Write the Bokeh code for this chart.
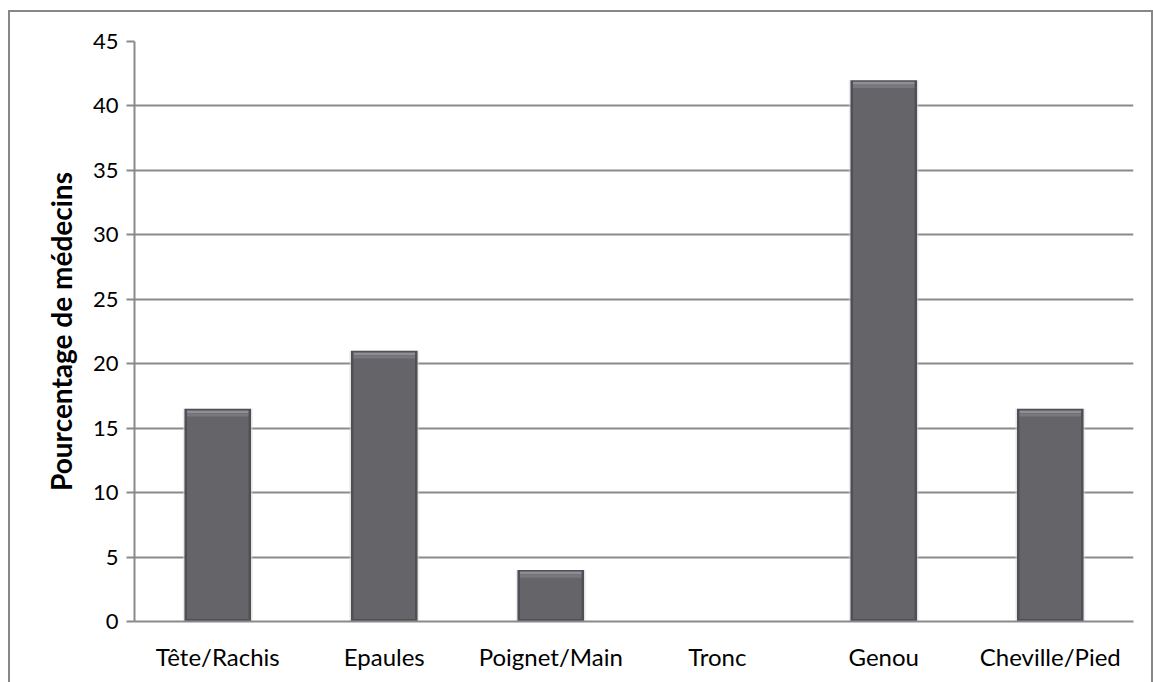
from bokeh.plotting import figure
from bokeh.models import Range1d, FactorRange, FixedTicker, ColumnDataSource
from bokeh.layouts import column
from bokeh.embed import file_html
from bokeh.resources import INLINE
import numpy as np

categories = ["Tête/Rachis", "Epaules", "Poignet/Main", "Tronc", "Genou", "Cheville/Pied"]
values = [16.5, 21, 4, 0, 42, 16.5]
y_ticks = [0, 5, 10, 15, 20, 25, 30, 35, 40, 45]

vals = np.array(values, dtype=float)
src = ColumnDataSource(dict(
    cat=categories,
    top=vals,
    inner_top=np.maximum(vals - 0.45, 0),
    inner_bottom=np.minimum(0.2, vals),
    bev_top=np.maximum(vals - 0.12, 0),
    bev_bottom=np.maximum(vals - 0.35, 0),
    bev2_top=np.maximum(vals - 0.35, 0),
    bev2_bottom=np.maximum(vals - 0.6, 0),
))

p = figure(width=1141, height=670, output_backend="svg", toolbar_location=None,
           x_range=FactorRange(factors=categories), y_range=Range1d(0, 45),
           min_border_left=124, min_border_right=18, min_border_top=29, min_border_bottom=61)

p.outline_line_color = None
p.background_fill_color = "white"
p.border_fill_color = "white"

# bars: shadow, body, inner face, top bevel
p.vbar(x="cat", top="top", bottom=0, width=0.42, source=src, fill_color="#d9d9d9",
       line_color=None, fill_alpha=0.5)
p.vbar(x="cat", top="top", bottom=0, width=0.4, source=src, fill_color="#4f4f56", line_color=None)
p.vbar(x="cat", top="inner_top", bottom="inner_bottom", width=0.37, source=src,
       fill_color="#646469", line_color=None)
p.vbar(x="cat", top="bev_top", bottom="bev_bottom", width=0.37, source=src,
       fill_color="#8e8e94", line_color=None)
p.vbar(x="cat", top="bev2_top", bottom="bev2_bottom", width=0.37, source=src,
       fill_color="#77777d", line_color=None)

# axes
p.yaxis.ticker = FixedTicker(ticks=y_ticks)
p.yaxis.major_tick_out = 8
p.yaxis.major_tick_in = 0
p.yaxis.minor_tick_line_color = None
p.yaxis.major_tick_line_color = "#8a8a8a"
p.yaxis.major_tick_line_width = 2
p.yaxis.axis_line_color = "#8a8a8a"
p.yaxis.axis_line_width = 2
p.yaxis.major_label_standoff = 8
p.yaxis.axis_label = "Pourcentage de médecins"
p.yaxis.axis_label_text_font = "Lato"
p.yaxis.axis_label_text_font_style = "bold"
p.yaxis.axis_label_text_font_size = "28px"
p.yaxis.axis_label_text_color = "black"
p.yaxis.axis_label_standoff = 12

p.xaxis.major_tick_line_color = None
p.xaxis.minor_tick_line_color = None
p.xaxis.axis_line_color = "#8a8a8a"
p.xaxis.axis_line_width = 2
p.xaxis.major_label_standoff = 14

for ax in (p.xaxis, p.yaxis):
    ax.major_label_text_font = "Lato"
    ax.major_label_text_color = "black"
p.xaxis.major_label_text_font_size = "24px"
p.yaxis.major_label_text_font_size = "22px"

p.xgrid.grid_line_color = None
p.ygrid.grid_line_color = "#8a8a8a"
p.ygrid.grid_line_width = 2

layout = column(p, styles={"margin-left": "8px", "margin-top": "10px",
                           "border-left": "2px solid #878787",
                           "border-top": "2px solid #878787",
                           "border-right": "2px solid #878787"})

open("out.html", "w").write(file_html(layout, INLINE))
